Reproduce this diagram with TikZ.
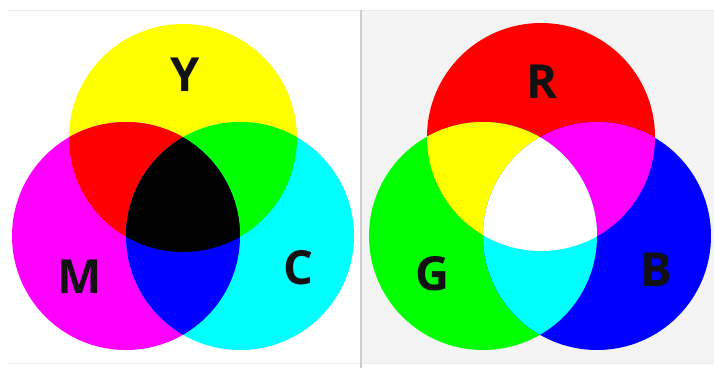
\documentclass[tikz,border=0pt]{standalone}
\usepackage{fontspec}
\setmainfont{Open Sans}
\definecolor{pY}{RGB}{255,255,0}
\definecolor{pM}{RGB}{255,0,255}
\definecolor{pC}{RGB}{0,255,255}
\definecolor{pR}{RGB}{255,0,0}
\definecolor{pG}{RGB}{0,255,0}
\definecolor{pB}{RGB}{0,0,255}
\definecolor{pK}{RGB}{0,0,0}
\definecolor{pW}{RGB}{255,255,255}
\definecolor{panelgray}{RGB}{244,244,244}
\definecolor{txt}{RGB}{17,17,17}
\begin{document}
\begin{tikzpicture}[x=1pt,y=-1pt,
  lab/.style={font=\bfseries\fontsize{47}{47}\selectfont, text=txt, inner sep=0pt},
  frameline/.style={draw=black!8, line width=1pt}]
\useasboundingbox (0,0) rectangle (714,368);
\fill[white] (0,0) rectangle (714,368);
\fill[panelgray] (362,10) rectangle (714,363);
\draw[frameline] (8,10) -- (714,10);
\draw[frameline] (8,363) -- (714,363);
\draw[black!20, line width=2pt] (361,10) -- (361,368);
\def\rr{114pt}
% subtractive
\coordinate (Yc) at (183,138);
\coordinate (Mc) at (126,236);
\coordinate (Cc) at (240,236);
\fill[pY] (Yc) circle[radius=\rr];
\fill[pM] (Mc) circle[radius=\rr];
\fill[pC] (Cc) circle[radius=\rr];
\begin{scope}\clip (Yc) circle[radius=\rr]; \fill[pR] (Mc) circle[radius=\rr]; \end{scope}
\begin{scope}\clip (Yc) circle[radius=\rr]; \fill[pG] (Cc) circle[radius=\rr]; \end{scope}
\begin{scope}\clip (Mc) circle[radius=\rr]; \fill[pB] (Cc) circle[radius=\rr]; \end{scope}
\begin{scope}\clip (Yc) circle[radius=\rr]; \clip (Mc) circle[radius=\rr]; \fill[pK] (Cc) circle[radius=\rr]; \end{scope}
% additive
\coordinate (Rc) at (541,137);
\coordinate (Gc) at (483,236);
\coordinate (Bc) at (597,236);
\fill[pR] (Rc) circle[radius=\rr];
\fill[pG] (Gc) circle[radius=\rr];
\fill[pB] (Bc) circle[radius=\rr];
\begin{scope}\clip (Rc) circle[radius=\rr]; \fill[pY] (Gc) circle[radius=\rr]; \end{scope}
\begin{scope}\clip (Rc) circle[radius=\rr]; \fill[pM] (Bc) circle[radius=\rr]; \end{scope}
\begin{scope}\clip (Gc) circle[radius=\rr]; \fill[pC] (Bc) circle[radius=\rr]; \end{scope}
\begin{scope}\clip (Rc) circle[radius=\rr]; \clip (Gc) circle[radius=\rr]; \fill[pW] (Bc) circle[radius=\rr]; \end{scope}
% labels
\node[lab] (Ylab) at (185,75) {Y};
\node[lab] (Mlab) at (80,277) {M};
\node[lab] (Clab) at (298,268) {C};
\node[lab] (Rlab) at (542,82) {R};
\node[lab] (Glab) at (433,274) {G};
\node[lab] (Blab) at (656,270) {B};
\end{tikzpicture}
\end{document}
